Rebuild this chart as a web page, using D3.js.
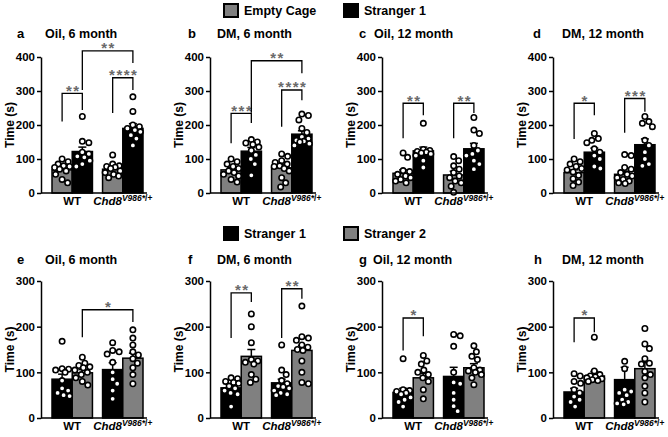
<!DOCTYPE html>
<html><head><meta charset="utf-8">
<script src="https://cdn.jsdelivr.net/npm/d3@7"></script>
<style>
body{margin:0;background:#fff}
svg{display:block}
text{font-family:"Liberation Sans",Arial,Helvetica,sans-serif;font-weight:bold;fill:#000}
</style>
</head><body>
<svg id="chart" width="668" height="437"></svg>
<script>
// ---------------- DATA ----------------
const groups = ["WT", "Chd8"];
const seriesTop = ["Empty Cage", "Stranger 1"];
const seriesBottom = ["Stranger 1", "Stranger 2"];
const seriesColor = {"Empty Cage": "#808080", "Stranger 1": "#000000", "Stranger 2": "#808080"};
const panelLetters = ["a", "b", "c", "d", "e", "f", "g", "h"];
const panelTitles = ["Oil, 6 month", "DM, 6 month", "Oil, 12 month", "DM, 12 month",
                     "Oil, 6 month", "DM, 6 month", "Oil, 12 month", "DM, 12 month"];
const yTicksTop = [0, 100, 200, 300, 400];
const yTicksBottom = [0, 100, 200, 300];

// bar order: WT series1, WT series2, Chd8 series1, Chd8 series2
const meanA = [68, 122, 70, 190],  semA = [7, 13, 6, 14];
const meanB = [68, 123, 74, 173],  semB = [7, 11, 9, 10];
const meanC = [58, 124, 53, 130],  semC = [10, 11, 11, 16];
const meanD = [60, 120, 55, 142],  semD = [8, 12, 9, 17];
const meanE = [85, 99, 106, 131],  semE = [11, 7, 15, 11];
const meanF = [66, 135, 77, 148],  semF = [6, 15, 8, 11];
const meanG = [56, 88, 91, 110],   semG = [9, 10, 20, 9];
const meanH = [57, 92, 84, 108],   semH = [8, 10, 27, 13];

const ptsA = [[100,92,85,80,78,75,70,65,55,40,30],[225,152,148,120,115,108,105,95,85,78],
              [112,85,80,78,76,72,65,60,55,50,45],[283,240,200,195,190,185,180,170,160,140]];
const ptsB = [[100,92,85,78,72,65,60,55,50,40,32],[157,150,147,143,135,125,112,100,85,52],
              [115,108,95,90,85,80,78,72,65,45,30,18],[232,228,215,190,178,165,160,155,152,150,145,140]];
const ptsC = [[118,105,66,63,55,50,45,40,35,30],[205,128,125,122,120,118,115,110,95,75],
              [107,95,80,70,60,50,45,35,30,20,2],[222,185,175,140,125,115,110,95,85,70]];
const ptsD = [[100,92,85,78,72,68,62,52,42,32,22],[175,160,155,148,130,120,110,100,78,72],
              [113,110,75,70,60,55,50,45,40,35,30,28],[225,210,205,195,155,140,120,100,85,80]];
const ptsE = [[168,108,107,105,100,82,65,60,55,50,48],[133,120,115,112,110,105,100,95,88,80,72],
              [165,148,145,140,122,100,85,75,60,42],[193,175,160,145,138,130,120,110,95,75]];
const ptsF = [[88,86,80,78,76,70,65,60,55,52,25],[228,200,165,128,125,122,118,95,85,78],
              [160,105,95,82,75,70,68,65,60,55,52,50],[245,178,175,170,160,155,150,148,125,100,78,75]];
const ptsG = [[130,62,60,58,55,52,45,40,35,25],[137,125,118,105,100,95,88,80,62,42],
              [183,180,157,100,78,75,55,40,26,15],[158,145,135,128,110,105,103,100,95,88,73]];
const ptsH = [[97,92,80,76,62,55,47,40,35,25],[177,103,95,92,90,88,86,84,82,80],
              [124,108,62,58,55,50,40,35,32,30],[196,162,152,130,120,118,102,95,88,70,55,35]];

// significance: [leftBar, rightBar, lineValue, leftEndValue, rightEndValue, label]
const sigA = [[0,1,293,210,244,"**"],[2,3,339,235,303,"****"],[1,3,418,303,382,"**"]];
const sigB = [[0,1,234,146,206,"***"],[2,3,303,195,273,"****"],[1,3,389,236,352,"**"]];
const sigC = [[0,1,264,161,229,"**"],[2,3,264,161,235,"**"]];
const sigD = [[0,1,264,159,229,"*"],[2,3,278,177,239,"***"]];
const sigE = [[1,3,237,177,210,"*"]];
const sigF = [[0,1,274,175,254,"**"],[2,3,283,175,261,"**"]];
const sigG = [[0,1,219,148,179,"*"]];
const sigH = [[0,1,219,166,188,"*"]];

// ---------------- LAYOUT ----------------
const rows = [
  {y0: 193, yMax: 57, ticks: yTicksTop, series: seriesTop, titleY: 38, legendY: 4, labelY: 205},
  {y0: 418, yMax: 281, ticks: yTicksBottom, series: seriesBottom, titleY: 264, legendY: 227, labelY: 430}
];
const axisX = [41, 210, 382, 553];
const letterX = [[17, 188, 359, 533], [17, 188, 359, 534]];
const titleX = [[45, 217, 374, 562], [45, 217, 373, 562]];
const legendX = [224, 344];

const means = [meanA, meanB, meanC, meanD, meanE, meanF, meanG, meanH];
const sems = [semA, semB, semC, semD, semE, semF, semG, semH];
const pts = [ptsA, ptsB, ptsC, ptsD, ptsE, ptsF, ptsG, ptsH];
const sigs = [sigA, sigB, sigC, sigD, sigE, sigF, sigG, sigH];

const svg = d3.select("#chart");

function swarm(values, y, maxOff, minD) {
  const placed = [];
  values.forEach(v => {
    const py = y(v);
    let chosen = null, bestOff = 0, bestD = -1;
    const steps = Math.round(2 * maxOff / 0.5);
    for (let k = 0; k <= steps; k++) {
      const off = (k % 2 ? 1 : -1) * Math.ceil(k / 2) * 0.5;
      let md = Infinity;
      placed.forEach(p => { md = Math.min(md, Math.hypot(p.x - off, p.y - py)); });
      if (md >= minD) { chosen = off; break; }
      if (md > bestD) { bestD = md; bestOff = off; }
    }
    placed.push({x: chosen === null ? bestOff : chosen, y: py, v});
  });
  return placed;
}

// legends
rows.forEach(row => {
  row.series.forEach((s, i) => {
    svg.append("rect").attr("x", legendX[i]).attr("y", row.legendY)
      .attr("width", 14).attr("height", 13)
      .attr("fill", seriesColor[s]).attr("stroke", "#000").attr("stroke-width", 2);
    svg.append("text").attr("x", legendX[i] + 20).attr("y", row.legendY + 11)
      .attr("font-size", 12.5).text(s);
  });
});

for (let p = 0; p < 8; p++) {
  const r = Math.floor(p / 4), c = p % 4;
  const row = rows[r];
  const ox = axisX[c];
  const g = svg.append("g").attr("transform", `translate(${ox},0)`);
  const maxV = row.ticks[row.ticks.length - 1];
  const y = d3.scaleLinear().domain([0, maxV]).range([row.y0, row.yMax]);
  const xg = d3.scaleBand().domain(groups).range([11, 102]).paddingInner(0.2).paddingOuter(0);
  const xs = d3.scaleBand().domain(row.series).range([0, xg.bandwidth()]).padding(0);

  const bars = [];
  groups.forEach((gr, gi) => row.series.forEach((s, si) => {
    const idx = gi * 2 + si;
    bars.push({gr, s, idx, x: xg(gr) + xs(s), w: xs.bandwidth(),
               mean: means[p][idx], sem: sems[p][idx], pts: pts[p][idx]});
  }));
  const cx = b => b.x + b.w / 2;

  // title
  svg.append("text").attr("x", letterX[r][c]).attr("y", row.titleY).attr("font-size", 13).text(panelLetters[p]);
  svg.append("text").attr("x", titleX[r][c]).attr("y", row.titleY).attr("font-size", 12.5).text(panelTitles[p]);

  // bars
  g.selectAll("rect.bar").data(bars).enter().append("rect")
    .attr("x", d => d.x).attr("width", d => d.w)
    .attr("y", d => y(d.mean)).attr("height", d => y(0) - y(d.mean))
    .attr("fill", d => seriesColor[d.s]).attr("stroke", "#000").attr("stroke-width", 1.5);

  // error bars (upper)
  bars.forEach(d => {
    g.append("line").attr("x1", cx(d)).attr("x2", cx(d))
      .attr("y1", y(d.mean)).attr("y2", y(d.mean + d.sem)).attr("stroke", "#000").attr("stroke-width", 1.5);
    g.append("line").attr("x1", cx(d) - 4).attr("x2", cx(d) + 4)
      .attr("y1", y(d.mean + d.sem)).attr("y2", y(d.mean + d.sem)).attr("stroke", "#000").attr("stroke-width", 1.5);
  });

  // points
  bars.forEach(d => {
    const placed = swarm(d.pts, y, 7.5, 6.3);
    g.selectAll(null).data(placed).enter().append("circle")
      .attr("cx", q => cx(d) + q.x).attr("cy", q => q.y).attr("r", 2.7)
      .attr("fill", "#fff").attr("stroke", "#000").attr("stroke-width", 1.6);
  });

  // axes
  const ya = d3.axisLeft(y).tickValues(row.ticks).tickSize(4).tickSizeOuter(0).tickPadding(2);
  const yAx = g.append("g").call(ya);
  yAx.select(".domain").attr("stroke-width", 1.5);
  yAx.selectAll(".tick line").attr("stroke-width", 1.5);
  yAx.selectAll(".tick text").attr("font-size", 11.5).attr("font-weight", "bold")
     .attr("font-family", '"Liberation Sans",Arial,sans-serif').attr("fill", "#000");
  g.append("line").attr("x1", 0).attr("x2", 106).attr("y1", y(0)).attr("y2", y(0))
    .attr("stroke", "#000").attr("stroke-width", 1.5);

  // y label
  g.append("text").attr("transform", `translate(-27,${(row.y0 + row.yMax) / 2}) rotate(-90)`)
    .attr("text-anchor", "middle").attr("font-size", 12).text("Time (s)");

  // x labels
  g.append("text").attr("x", xg("WT") + xg.bandwidth() / 2).attr("y", row.labelY)
    .attr("text-anchor", "middle").attr("font-size", 11.5).text("WT");
  const t2 = g.append("text").attr("x", xg("Chd8") + xg.bandwidth() / 2).attr("y", row.labelY)
    .attr("text-anchor", "middle").attr("font-size", 11.5);
  t2.append("tspan").attr("font-style", "italic").text("Chd8");
  t2.append("tspan").attr("font-style", "italic").attr("font-size", 8.5).attr("dy", -4).text("V986*");
  t2.append("tspan").attr("font-size", 8.5).text("/+");

  // significance brackets
  sigs[p].forEach(([a, b, lv, le, re, lab]) => {
    const xa = cx(bars[a]), xb = cx(bars[b]);
    g.append("path").attr("d", `M${xa},${y(le)}V${y(lv)}H${xb}V${y(re)}`)
      .attr("fill", "none").attr("stroke", "#000").attr("stroke-width", 1.3);
    g.append("text").attr("x", (xa + xb) / 2 + 1).attr("y", y(lv) + 2.5)
      .attr("text-anchor", "middle").attr("font-size", 15).attr("font-weight", "normal")
      .attr("letter-spacing", 1.5).style("fill", "#6a6a6a").text(lab);
  });
}
</script>
</body></html>
